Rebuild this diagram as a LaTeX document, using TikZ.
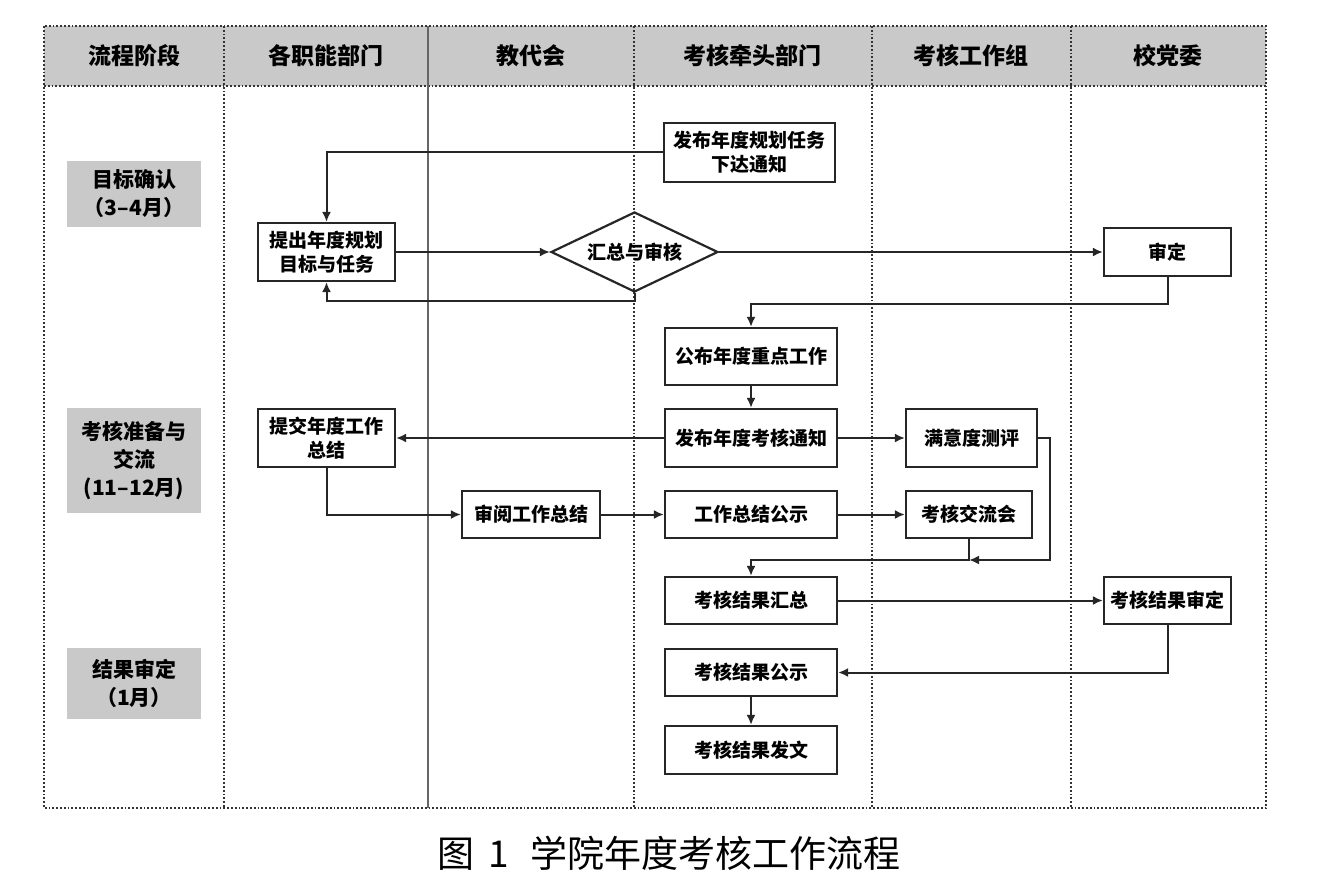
\documentclass[tikz,border=0pt]{standalone}
\usepackage{fontspec}
\setmainfont{Liberation Sans}
\newfontfamily\cjk{Noto Sans CJK SC}
\usetikzlibrary{arrows.meta,shapes.geometric,positioning}

\tikzset{
  box/.style={draw=black!85, line width=1.1pt, align=center, inner sep=1pt,
    font=\cjk\bfseries\fontsize{9.5}{12}\selectfont},
  wide/.style={box, minimum width=86pt, minimum height=23.5pt},
  side/.style={box, minimum width=63.5pt, minimum height=23.5pt},
  phase/.style={fill=black!21, align=center, minimum width=67pt, inner sep=1pt,
    font=\cjk\bfseries\fontsize{10.5}{14}\selectfont},
  head/.style={font=\cjk\bfseries\fontsize{11.5}{13}\selectfont},
  lane/.style={draw=black!80, line width=0.9pt, densely dotted},
}

\begin{document}
\begin{tikzpicture}[x=0.5pt,y=-0.5pt,>={Latex[length=5pt,width=4.5pt]},flow/.style={->,line width=1pt,draw=black!85}]
\useasboundingbox (0,0) rectangle (1320,882);
% swimlanes
\fill[black!21] (44,26) rectangle (1266,86);
\draw[lane] (44,26) rectangle (1266,808);
\draw[lane] (44,86) -- (1266,86);
\foreach \x in {224,634,872,1071}
  \draw[lane] (\x,26) -- (\x,808);
\draw[black!60, line width=1pt] (428,26) -- (428,808);
\node[head] (h1) at (134,56) {流程阶段};
\node[head] (h2) at (326,56) {各职能部门};
\node[head] (h3) at (531,56) {教代会};
\node[head] (h4) at (752,56) {考核牵头部门};
\node[head] (h5) at (971,56) {考核工作组};
\node[head] (h6) at (1168,56) {校党委};
% phases
\node[phase, minimum height=33pt] (p1) at (134,194) {目标确认\\（3–4月）};
\node[phase, minimum height=52.5pt] (p2) at (134,460.5) {考核准备与\\交流\\(11–12月)};
\node[phase, minimum height=35.5pt] (p3) at (134,683.5) {结果审定\\（1月）};
% steps
\node[box, minimum width=85.5pt, minimum height=29.5pt] (fabu) at (749.5,152.5) {发布年度规划任务\\下达通知};
\node[box, minimum width=68.5pt, minimum height=29pt] (tichu) at (326.5,252) {提出年度规划\\目标与任务};
\node[diamond, aspect=2.1, draw=black!85, line width=1.1pt, inner sep=0pt, minimum width=83.5pt, minimum height=40pt,
  font=\cjk\bfseries\fontsize{9.5}{12}\selectfont] (huizong) at (634.5,252) {汇总与审核};
\node[side, minimum height=24pt] (shending) at (1167.5,252) {审定};
\node[wide, minimum height=28.5pt] (zhongdian) at (751,356.5) {公布年度重点工作};
\node[wide, minimum height=29pt] (tongzhi) at (751,438) {发布年度考核通知};
\node[box, minimum width=65.5pt, minimum height=29pt] (manyi) at (971.5,438) {满意度测评};
\node[box, minimum width=68.5pt, minimum height=29pt] (tijiao) at (326.5,438) {提交年度工作\\总结};
\node[box, minimum width=69pt, minimum height=23.5pt] (shenyue) at (531,514.5) {审阅工作总结};
\node[wide] (gongshi) at (751,514.5) {工作总结公示};
\node[box, minimum width=63pt, minimum height=23.5pt] (jiaoliu) at (969,514.5) {考核交流会};
\node[wide] (jghz) at (751,600.5) {考核结果汇总};
\node[side] (jgsd) at (1167.5,600.5) {考核结果审定};
\node[wide] (jggs) at (751,672.5) {考核结果公示};
\node[wide, minimum height=24pt] (fawen) at (751,750) {考核结果发文};
\coordinate (merge) at (969,560);
% connectors
\draw[flow] (fabu.west) -| (tichu.north);
\draw[flow] (tichu.east) -- (huizong.west);
\draw[flow] (huizong.south) -- ++(0,8) -| (tichu.south);
\draw[flow] (huizong.east) -- (shending.west);
\draw[flow] (shending.south) -- ++(0,27) -| (zhongdian.north);
\draw[flow] (zhongdian) -- (tongzhi);
\draw[flow] (tongzhi) -- (tijiao);
\draw[flow] (tongzhi) -- (manyi);
\draw[flow] (tijiao.south) |- (shenyue.west);
\draw[flow] (shenyue) -- (gongshi);
\draw[flow] (gongshi) -- (jiaoliu);
\draw[flow] (manyi.east) -- ++(12,0) |- (merge);
\draw[flow] (jiaoliu.south) -- (merge) -| (jghz.north);
\draw[flow] (jghz) -- (jgsd);
\draw[flow] (jgsd.south) |- (jggs.east);
\draw[flow] (jggs) -- (fawen);
% caption
\node[font=\cjk\fontsize{18.5}{20}\selectfont] (cap) at (669,853) {图\hspace{7pt}1\hspace{11pt}学院年度考核工作流程};
\end{tikzpicture}
\end{document}
